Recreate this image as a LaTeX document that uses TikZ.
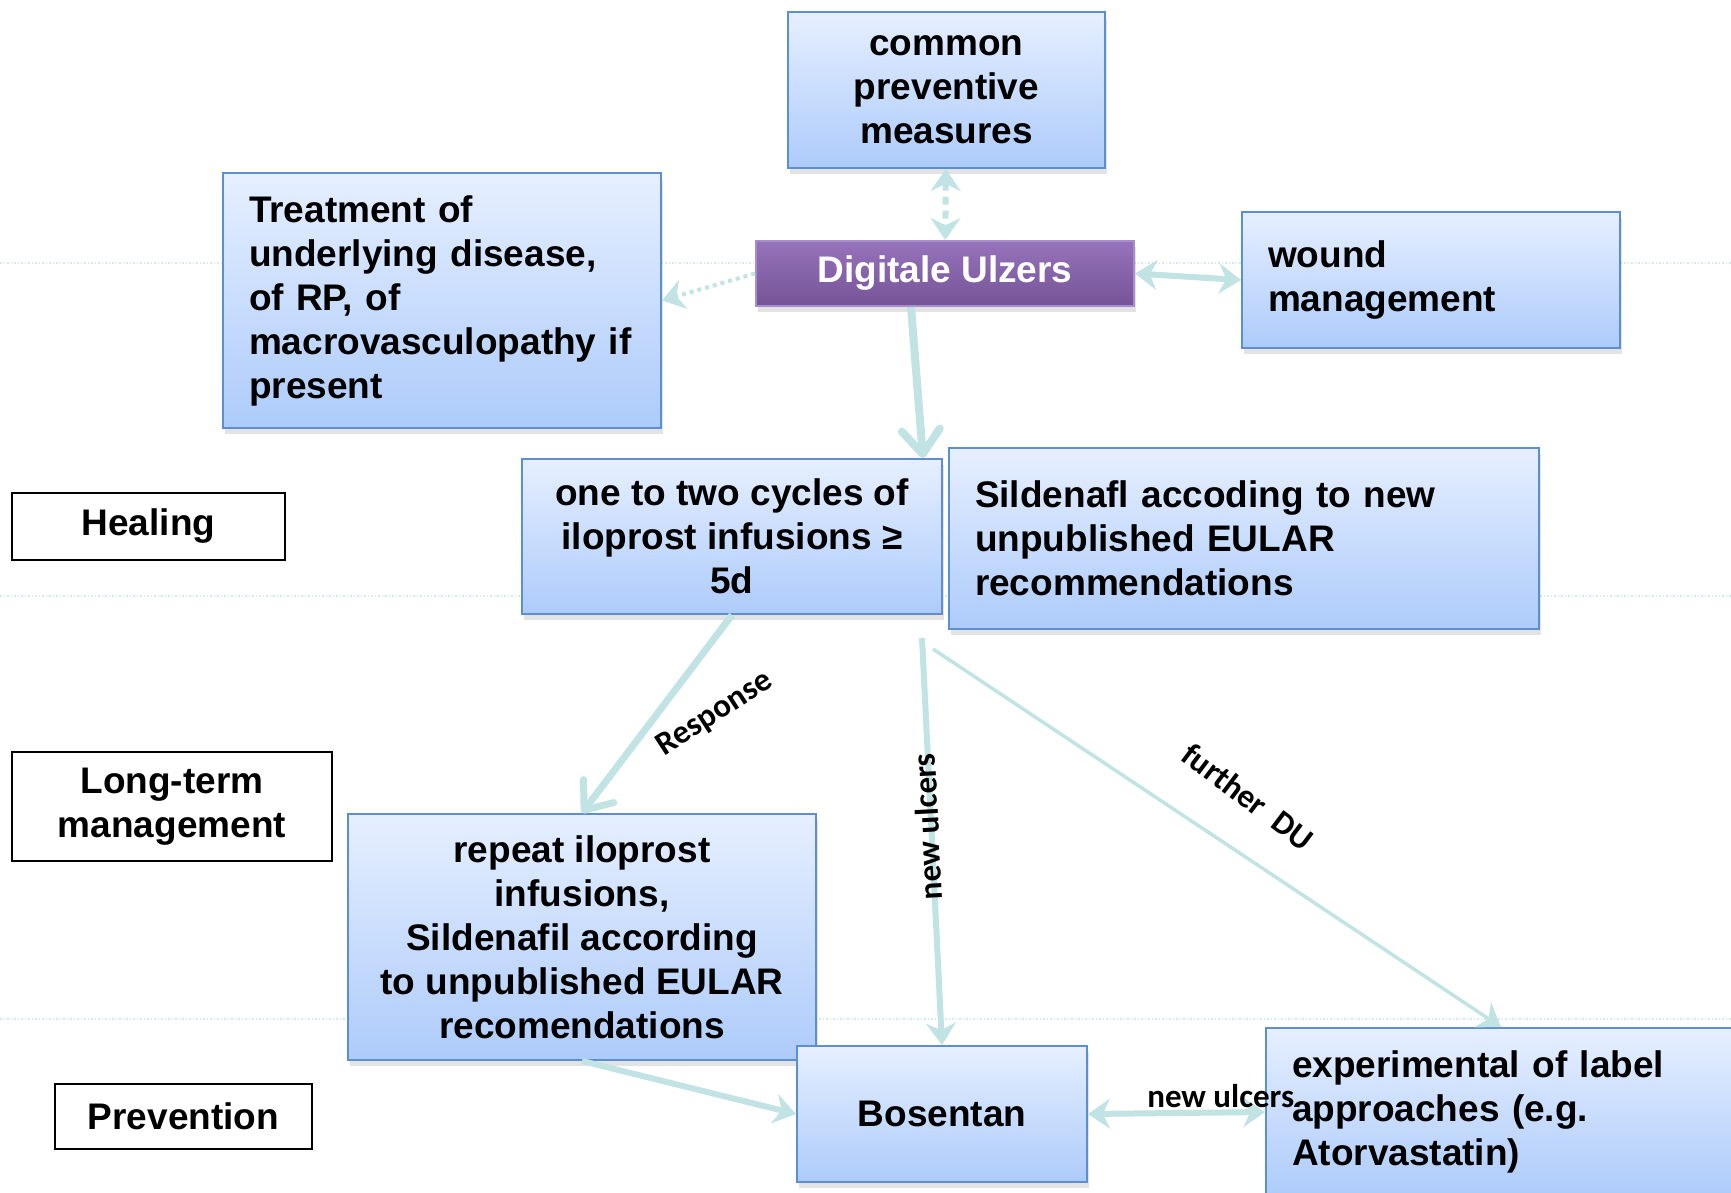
\documentclass[tikz,border=0pt]{standalone}
\usepackage{fontspec}
\setmainfont{Liberation Sans}
\newfontfamily\calfont{Carlito}
\usepackage{tikz}
\usetikzlibrary{positioning, arrows.meta, shadows}
\definecolor{boxTop}{HTML}{E6EFFF}
\definecolor{boxBot}{HTML}{ADCBFA}
\definecolor{boxB}{HTML}{5B8FCF}
\definecolor{duTop}{HTML}{9673BB}
\definecolor{duBot}{HTML}{765496}
\definecolor{duB}{HTML}{A58ECB}
\definecolor{flow}{HTML}{C2E3E3}
\definecolor{guide}{HTML}{D3EAEA}
\newcommand{\bigtxt}{\fontsize{37}{44}\selectfont\bfseries}

\begin{document}
\begin{tikzpicture}[x=1pt, y=-1pt, box/.style={draw=boxB, line width=2pt, top color=boxTop, bottom color=boxBot, align=center, font=\bigtxt, inner sep=0pt, drop shadow={opacity=0.22, shadow xshift=2pt, shadow yshift=-6pt}}, lbox/.style={box, align=left, inner xsep=26pt}, dubox/.style={box, draw=duB, top color=duTop, bottom color=duBot, text=white}, stage/.style={draw=black, line width=2pt, fill=white, align=center, font=\bigtxt, inner sep=0pt}, link/.style={draw=flow, line width=6pt, -{Stealth[length=22pt, width=30pt]}}, both/.style={link, {Stealth[length=22pt, width=30pt]}-{Stealth[length=22pt, width=30pt]}}, lab/.style={font=\calfont\bfseries\fontsize{33}{36}\selectfont, inner sep=0pt}]
\useasboundingbox (0,0) rectangle (1731,1192);
\clip (0,0) rectangle (1731,1192);
\draw[guide, line width=1.5pt, dotted] (0,263) -- (1731,263); \draw[guide, line width=1.5pt, dotted] (0,596) -- (1731,596); \draw[guide, line width=1.5pt, dotted] (0,1019) -- (1731,1019);
\node[box, minimum width=317pt, minimum height=156pt] (common) at (946.5,90) {common\\preventive\\measures};
\node[dubox, minimum width=378pt, minimum height=65pt] (dig) at (945,273.5) {Digitale Ulzers};
\node[lbox, text width=386pt, minimum height=255pt] (treat) at (442,300.5) {Treatment of\\underlying disease,\\of RP, of\\macrovasculopathy if\\present};
\node[lbox, text width=326pt, minimum height=136pt] (wound) at (1431,280) {wound\\management};
\node[stage, minimum width=273pt, minimum height=67pt] (heal) at (148.5,526.5) {Healing};
\node[box, minimum width=420pt, minimum height=155pt] (one) at (732,536.5) {one to two cycles of\\iloprost infusions ≥\\5d};
\node[lbox, text width=538pt, minimum height=181pt] (sild) at (1244,538.5) {Sildenafl accoding to new\\unpublished EULAR\\recommendations};
\node[stage, minimum width=320pt, minimum height=109pt] (long) at (172,806.5) {Long-term\\management};
\node[box, minimum width=468pt, minimum height=246pt] (repeat) at (582,937) {repeat iloprost\\infusions,\\Sildenafil according\\to unpublished EULAR\\recomendations};
\node[stage, minimum width=257pt, minimum height=65pt] (prev) at (183.5,1116.5) {Prevention};
\node[box, minimum width=290pt, minimum height=136pt] (bos) at (942,1114) {Bosentan};
\node[lbox, text width=418pt, minimum height=168pt] (exp) at (1501,1112) {experimental of label\\approaches (e.g.\\Atorvastatin)};
\coordinate (fork) at (922,638); \coordinate (fork2) at (933,649);
\draw[both, line width=6pt, dash pattern=on 8pt off 6pt] (common) -- (dig);
\draw[link, line width=4pt, dash pattern=on 4pt off 4pt] (dig.west) -- (treat.east);
\draw[both] (dig.east) -- (wound.west);
\draw[link, line width=8pt, -{Straight Barb[length=24pt, width=38pt, round]}] ([xshift=-34pt]dig.south) -- ([xshift=-20pt]one.north east);
\draw[link, line width=7pt, -{Straight Barb[length=24pt, width=38pt, round]}] (one.south) -- (repeat.north) node[lab, pos=0.5, xshift=58pt, rotate=33] {Response};
\draw[link] (fork) -- (bos.north) node[lab, pos=0.464, xshift=-4pt, rotate=93] {new ulcers};
\draw[link, line width=3.5pt] (fork2) -- (exp.north) node[lab, pos=0.555, yshift=62pt, rotate=-37] {further\ \ DU};
\draw[link] (repeat.south) -- (bos.west);
\draw[both] (bos.east) -- (exp.west) node[lab, pos=0.75, above=2pt] {new ulcers};
\end{tikzpicture}
\end{document}
